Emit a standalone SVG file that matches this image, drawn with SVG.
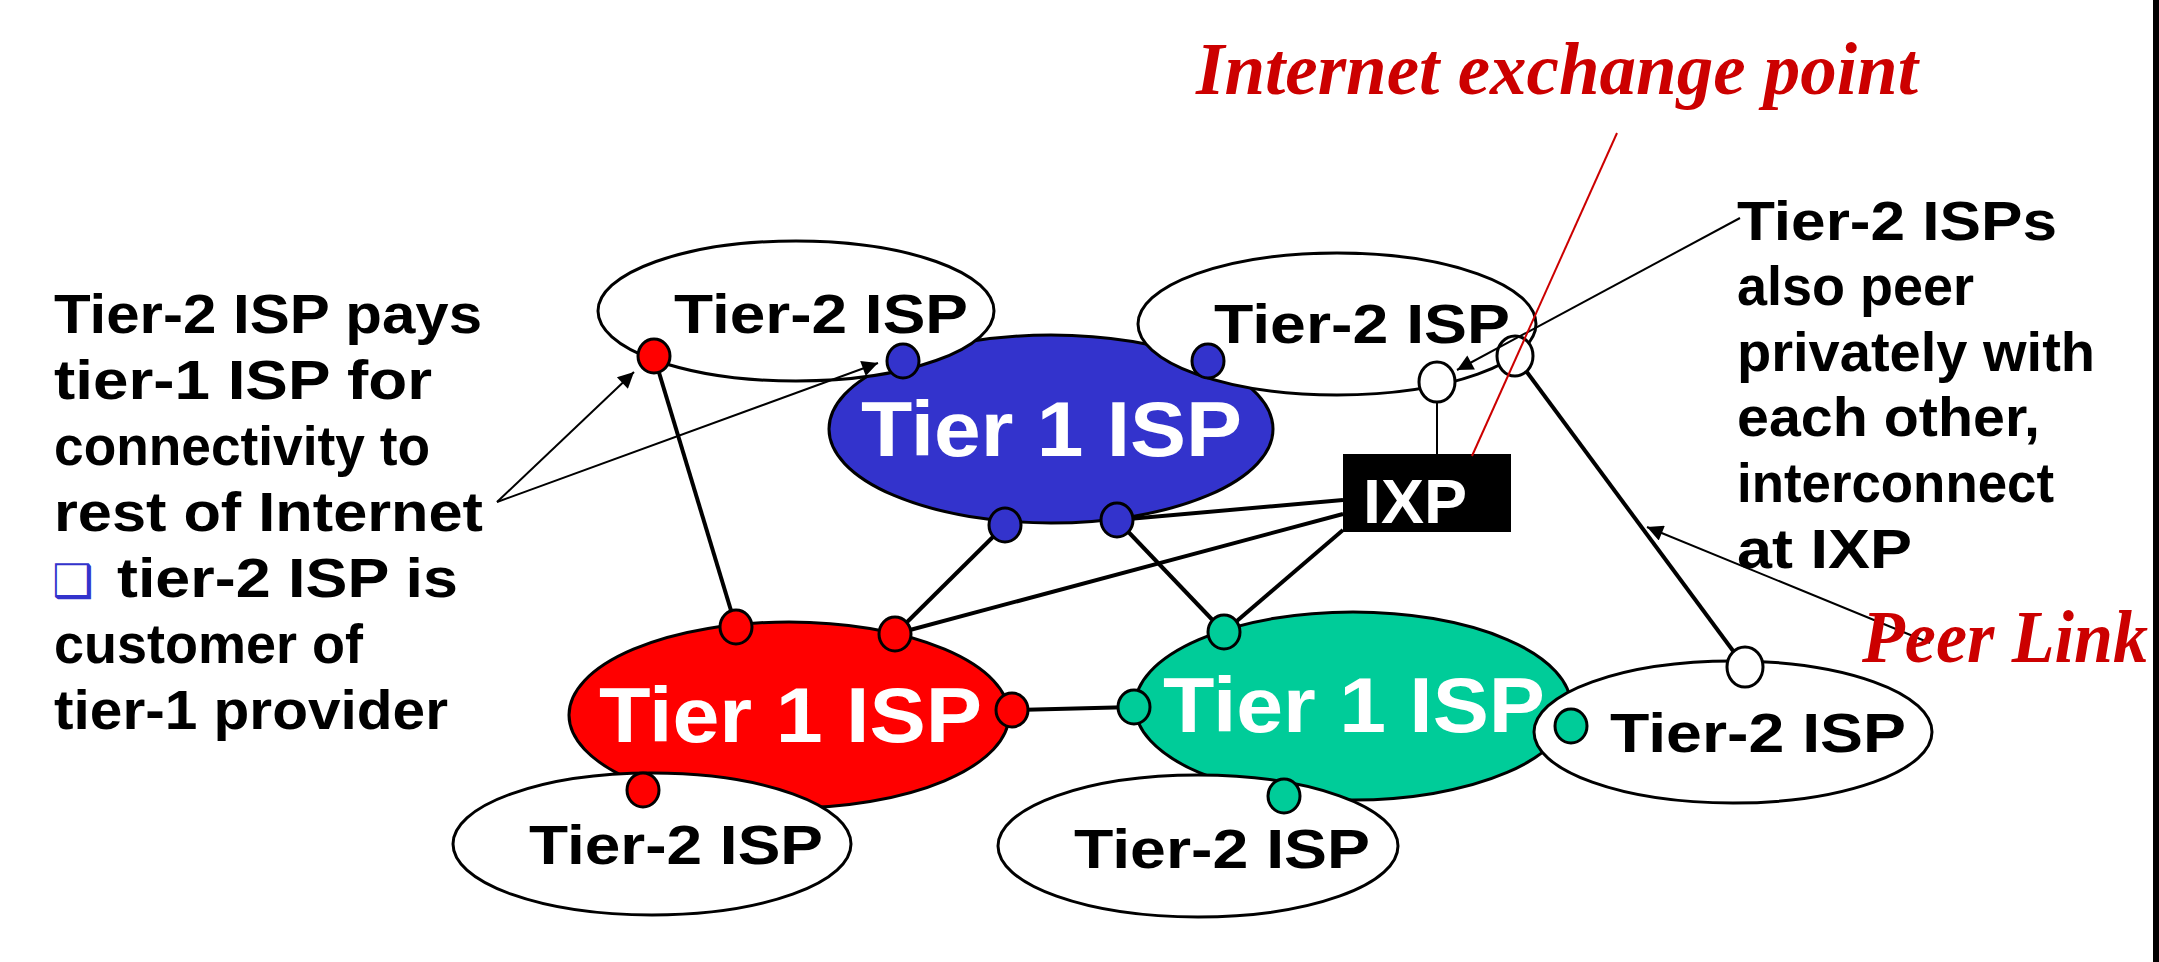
<svg xmlns="http://www.w3.org/2000/svg" width="2159" height="962" viewBox="0 0 2159 962">
<defs>
<style>
.lbl{font-family:"Liberation Sans",Arial,sans-serif;font-weight:bold;font-size:55px;fill:#000}
.t1{font-family:"Liberation Sans",Arial,sans-serif;font-weight:bold;font-size:78px;fill:#fff}
.ixp{font-family:"Liberation Sans",Arial,sans-serif;font-weight:bold;font-size:63px;fill:#fff}
.red{font-family:"Liberation Serif","Times New Roman",serif;font-weight:bold;font-style:italic;font-size:73px;fill:#CC0000}
.bul{font-family:"DejaVu Sans",sans-serif;font-size:46px;fill:#3333CC}
.ell{stroke:#000;stroke-width:3}
.t2{fill:#fff;stroke:#000;stroke-width:3}
.dot{stroke:#000;stroke-width:3}
.thin{stroke:#000;stroke-width:2;fill:none}
.thick{stroke:#000;stroke-width:4;fill:none}
.ptr{stroke:#000;stroke-width:2;fill:none;marker-end:url(#arr)}
</style>
<marker id="arr" viewBox="0 0 10 10" refX="10" refY="5" markerWidth="24" markerHeight="16" markerUnits="userSpaceOnUse" orient="auto">
<path d="M0,0 L10,5 L0,10 z" fill="#000"/>
</marker>
</defs>
<rect x="0" y="0" width="2159" height="962" fill="#fff"/>

<g id="tier1-blue">
<ellipse class="ell" cx="1051" cy="429" rx="222" ry="94" fill="#3333CC"/>
<text class="t1" x="861" y="456" textLength="381" lengthAdjust="spacingAndGlyphs">Tier 1 ISP</text>
</g>
<g id="tier1-red">
<ellipse class="ell" cx="789" cy="715" rx="220" ry="93" fill="#FF0000"/>
<text class="t1" x="599" y="742" textLength="383" lengthAdjust="spacingAndGlyphs">Tier 1 ISP</text>
</g>
<g id="tier1-green">
<ellipse class="ell" cx="1353" cy="706" rx="218" ry="94" fill="#00CC99"/>
<text class="t1" x="1163" y="732" textLength="382" lengthAdjust="spacingAndGlyphs">Tier 1 ISP</text>
</g>

<g id="tier2-topleft">
<ellipse class="t2" cx="796" cy="311" rx="198" ry="70"/>
<text class="lbl" x="674" y="333" textLength="294" lengthAdjust="spacingAndGlyphs">Tier-2 ISP</text>
</g>
<g id="tier2-topright">
<ellipse class="t2" cx="1337" cy="324" rx="199" ry="71"/>
<text class="lbl" x="1214" y="343" textLength="296" lengthAdjust="spacingAndGlyphs">Tier-2 ISP</text>
</g>
<g id="tier2-bottomleft">
<ellipse class="t2" cx="652" cy="844" rx="199" ry="71"/>
<text class="lbl" x="529" y="864" textLength="294" lengthAdjust="spacingAndGlyphs">Tier-2 ISP</text>
</g>
<g id="tier2-bottommiddle">
<ellipse class="t2" cx="1198" cy="846" rx="200" ry="71"/>
<text class="lbl" x="1074" y="868" textLength="296" lengthAdjust="spacingAndGlyphs">Tier-2 ISP</text>
</g>
<g id="tier2-right">
<ellipse class="t2" cx="1733" cy="732" rx="199" ry="71"/>
<text class="lbl" x="1610" y="752" textLength="296" lengthAdjust="spacingAndGlyphs">Tier-2 ISP</text>
</g>

<g id="ixp">
<rect x="1343" y="454" width="168" height="78" fill="#000"/>
<text class="ixp" x="1363" y="523" textLength="104" lengthAdjust="spacingAndGlyphs">IXP</text>
</g>

<g id="connectors">
<line class="thick" x1="654" y1="356" x2="736" y2="627"/>
<line class="thick" stroke-width="3" x1="1005" y1="525" x2="895" y2="634"/>
<line class="thick" stroke-width="5" x1="895" y1="634" x2="1343" y2="514"/>
<line class="thick" x1="1117" y1="520" x2="1343" y2="500"/>
<line class="thick" x1="1117" y1="520" x2="1224" y2="632"/>
<line class="thick" x1="1343" y1="530" x2="1224" y2="632"/>
<line class="thick" x1="1012" y1="710" x2="1134" y2="707"/>
<line class="thin" x1="1437" y1="382" x2="1437" y2="454"/>
<line class="thick" x1="1515" y1="356" x2="1745" y2="667"/>
</g>

<g id="ports">
<ellipse class="dot" cx="654" cy="356" rx="16" ry="17" fill="#FF0000"/>
<ellipse class="dot" cx="736" cy="627" rx="16" ry="17" fill="#FF0000"/>
<ellipse class="dot" cx="895" cy="634" rx="16" ry="17" fill="#FF0000"/>
<ellipse class="dot" cx="1012" cy="710" rx="16" ry="17" fill="#FF0000"/>
<ellipse class="dot" cx="643" cy="790" rx="16" ry="17" fill="#FF0000"/>
<ellipse class="dot" cx="903" cy="361" rx="16" ry="17" fill="#3333CC"/>
<ellipse class="dot" cx="1208" cy="361" rx="16" ry="17" fill="#3333CC"/>
<ellipse class="dot" cx="1005" cy="525" rx="16" ry="17" fill="#3333CC"/>
<ellipse class="dot" cx="1117" cy="520" rx="16" ry="17" fill="#3333CC"/>
<ellipse class="dot" cx="1224" cy="632" rx="16" ry="17" fill="#00CC99"/>
<ellipse class="dot" cx="1134" cy="707" rx="16" ry="17" fill="#00CC99"/>
<ellipse class="dot" cx="1284" cy="796" rx="16" ry="17" fill="#00CC99"/>
<ellipse class="dot" cx="1571" cy="726" rx="16" ry="17" fill="#00CC99"/>
<ellipse class="dot" cx="1437" cy="382" rx="18" ry="20" fill="#fff"/>
<ellipse class="dot" cx="1515" cy="356" rx="18" ry="20" fill="#fff"/>
<ellipse class="dot" cx="1745" cy="667" rx="18" ry="20" fill="#fff"/>
</g>

<g id="annotation-left">
<text class="lbl" x="54" y="333" textLength="428" lengthAdjust="spacingAndGlyphs">Tier-2 ISP pays</text>
<text class="lbl" x="54" y="399" textLength="378" lengthAdjust="spacingAndGlyphs">tier-1 ISP for</text>
<text class="lbl" x="54" y="465" textLength="376" lengthAdjust="spacingAndGlyphs">connectivity to</text>
<text class="lbl" x="54" y="531" textLength="429" lengthAdjust="spacingAndGlyphs">rest of Internet</text>
<text class="bul" x="52" y="597">❑</text>
<text class="lbl" x="117" y="597" textLength="341" lengthAdjust="spacingAndGlyphs">tier-2 ISP is</text>
<text class="lbl" x="54" y="663" textLength="309" lengthAdjust="spacingAndGlyphs">customer of</text>
<text class="lbl" x="54" y="729" textLength="394" lengthAdjust="spacingAndGlyphs">tier-1 provider</text>
<line class="ptr" x1="497" y1="502" x2="634" y2="372"/>
<line class="ptr" x1="497" y1="502" x2="878" y2="363"/>
</g>

<g id="annotation-right">
<text class="lbl" x="1737" y="240" textLength="320" lengthAdjust="spacingAndGlyphs">Tier-2 ISPs</text>
<text class="lbl" x="1737" y="305" textLength="237" lengthAdjust="spacingAndGlyphs">also peer</text>
<text class="lbl" x="1737" y="371" textLength="358" lengthAdjust="spacingAndGlyphs">privately with</text>
<text class="lbl" x="1737" y="436" textLength="303" lengthAdjust="spacingAndGlyphs">each other,</text>
<text class="lbl" x="1737" y="502" textLength="317" lengthAdjust="spacingAndGlyphs">interconnect</text>
<text class="lbl" x="1737" y="568" textLength="175" lengthAdjust="spacingAndGlyphs">at IXP</text>
<line class="ptr" x1="1740" y1="218" x2="1457" y2="370"/>
</g>

<g id="annotation-ixp">
<text class="red" x="1196" y="94" textLength="722" lengthAdjust="spacingAndGlyphs">Internet exchange point</text>
<line x1="1617" y1="133" x2="1472" y2="456" stroke="#CC0000" stroke-width="2"/>
</g>

<g id="annotation-peer">
<line class="ptr" x1="1930" y1="643" x2="1647" y2="527"/>
<text class="red" x="1862" y="662" textLength="286" lengthAdjust="spacingAndGlyphs">Peer Link</text>
</g>

<rect x="2153" y="0" width="6" height="962" fill="#000"/>
</svg>
